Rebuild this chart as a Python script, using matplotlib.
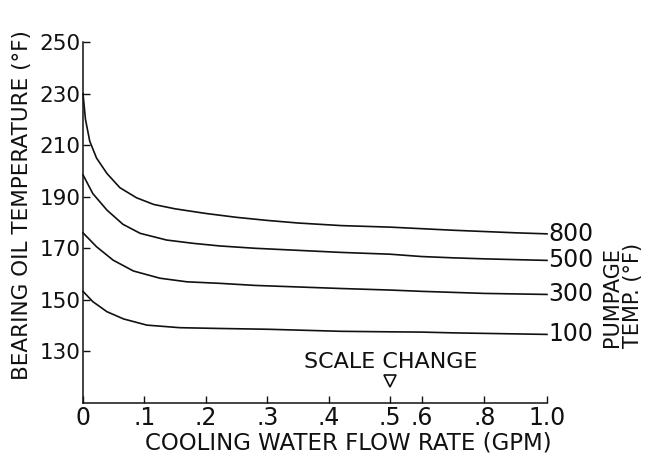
import matplotlib
matplotlib.use("Agg")
import matplotlib.pyplot as plt
import numpy as np

# ── Data ─────────────────────────────────────────────────────────────────
flow_800 = [0, 0.004, 0.011, 0.022, 0.039, 0.06, 0.087, 0.115, 0.15, 0.2, 0.25, 0.3, 0.35, 0.42,
            0.5, 0.6, 0.7, 0.8, 0.9, 1.0]
temp_800 = [230, 220, 211.5, 205, 199, 193.5, 189.6, 187, 185.3, 183.5, 182, 180.8, 179.8, 178.8,
            178.2, 177.6, 177, 176.5, 176, 175.6]

flow_500 = [0, 0.016, 0.039, 0.065, 0.093, 0.136, 0.18, 0.223, 0.28, 0.35, 0.42,
            0.5, 0.6, 0.7, 0.8, 0.9, 1.0]
temp_500 = [198.5, 191.2, 184.8, 179.3, 175.8, 173.2, 171.9, 170.9, 170, 169.2, 168.4,
            167.7, 166.8, 166.3, 165.9, 165.6, 165.3]

flow_300 = [0, 0.022, 0.049, 0.082, 0.125, 0.169, 0.223, 0.28, 0.35, 0.42,
            0.5, 0.6, 0.7, 0.8, 0.9, 1.0]
temp_300 = [176, 170.6, 165.4, 161.2, 158.4, 157, 156.4, 155.6, 155, 154.4,
            153.8, 153.3, 152.9, 152.5, 152.3, 152.1]

flow_100 = [0, 0.016, 0.039, 0.066, 0.104, 0.158, 0.223, 0.3, 0.36, 0.42,
            0.5, 0.6, 0.7, 0.8, 0.9, 1.0]
temp_100 = [153.3, 149.3, 145.4, 142.6, 140.2, 139.2, 138.9, 138.6, 138.2, 137.8,
            137.6, 137.5, 137.2, 137, 136.8, 136.6]

curve_labels = ["800", "500", "300", "100"]
x_ticks = [0, 0.1, 0.2, 0.3, 0.4, 0.5, 0.6, 0.8, 1.0]
x_tick_labels = ["0", ".1", ".2", ".3", ".4", ".5", ".6", ".8", "1.0"]
y_ticks = [130, 150, 170, 190, 210, 230, 250]
scale_change_at = 0.5

# ── Style ────────────────────────────────────────────────────────────────
_FONT = "DejaVu Sans"
_INK = "#111111"
_LW = 1.2
_RATIO = 0.51  # compression of the axis above the scale change

plt.rcParams["font.family"] = _FONT


def _fwd(x):
    x = np.asarray(x, dtype=float)
    return np.where(x <= scale_change_at, x, scale_change_at + (x - scale_change_at) * _RATIO)


def _inv(y):
    y = np.asarray(y, dtype=float)
    return np.where(y <= scale_change_at, y, scale_change_at + (y - scale_change_at) / _RATIO)


fig = plt.figure(figsize=(6.63, 4.68), dpi=100)
ax = fig.add_axes([83 / 663, 1 - 403 / 468, (547 - 83) / 663, (403 - 42) / 468])
ax.set_xscale("function", functions=(_fwd, _inv))

series = [(flow_800, temp_800), (flow_500, temp_500), (flow_300, temp_300), (flow_100, temp_100)]
for (fx, ty), lab in zip(series, curve_labels):
    ax.plot(fx, ty, color=_INK, linewidth=_LW, clip_on=False, solid_joinstyle="round")
    ax.annotate(lab, xy=(fx[-1], ty[-1]), xytext=(1, 0), textcoords="offset points",
                ha="left", va="center", fontsize=17, color=_INK, annotation_clip=False)

ax.set_xlim(0, 1.0)
ax.set_ylim(110, 250)
ax.set_xticks(x_ticks)
ax.set_xticklabels(x_tick_labels)
ax.set_yticks(y_ticks)
ax.tick_params(axis="both", direction="in", length=5, width=1, colors=_INK)
ax.tick_params(axis="x", pad=2, labelsize=17)
ax.tick_params(axis="y", pad=2, labelsize=15.5)
for side in ("top", "right"):
    ax.spines[side].set_visible(False)
for side in ("left", "bottom"):
    ax.spines[side].set_linewidth(1.1)
    ax.spines[side].set_color(_INK)

# scale change marker
ax.plot([scale_change_at], [118.5], marker="v", markersize=9, markerfacecolor="white",
        markeredgecolor=_INK, markeredgewidth=1.2, clip_on=False)
ax.text(scale_change_at, 122, "SCALE CHANGE", ha="center", va="bottom", fontsize=16, color=_INK)

fig.text(22 / 663, 1 - 205 / 468, "BEARING OIL TEMPERATURE (°F)", rotation=90,
         ha="center", va="center", fontsize=15.5, color=_INK)
fig.text(348 / 663, 1 - 443 / 468, "COOLING WATER FLOW RATE (GPM)",
         ha="center", va="center", fontsize=16.5, color=_INK)
fig.text(612 / 663, 1 - 297 / 468, "PUMPAGE", rotation=90,
         ha="center", va="center", fontsize=15, color=_INK)
fig.text(633 / 663, 1 - 295 / 468, "TEMP. (°F)", rotation=90,
         ha="center", va="center", fontsize=15, color=_INK)

fig.savefig("out.png", dpi=100)
